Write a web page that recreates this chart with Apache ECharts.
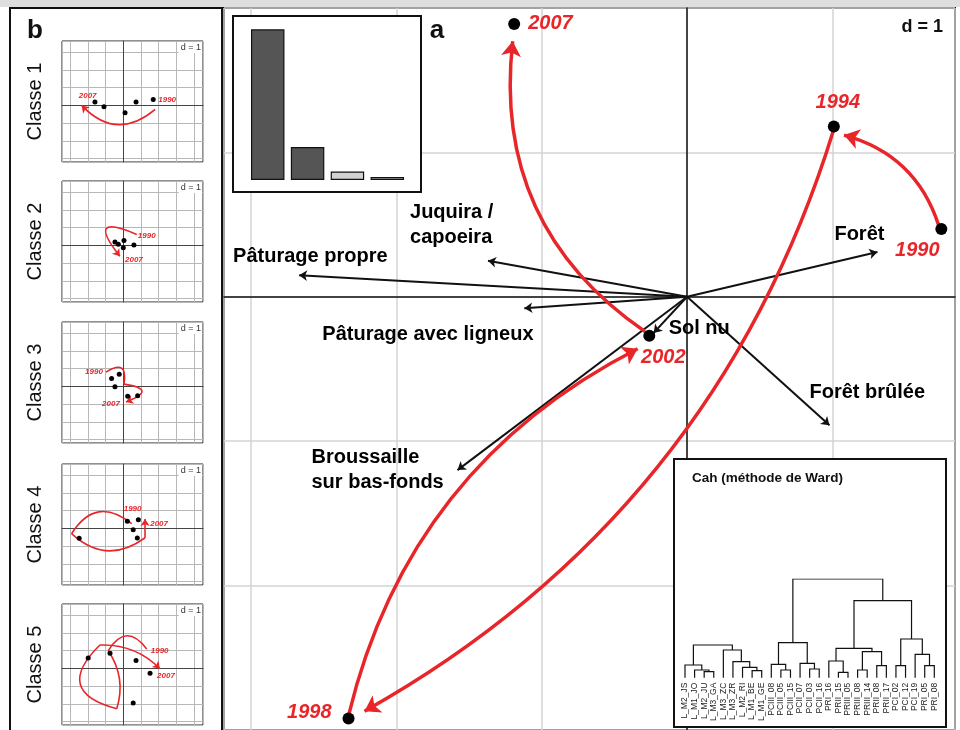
<!DOCTYPE html>
<html>
<head>
<meta charset="utf-8">
<script src="https://cdn.jsdelivr.net/npm/echarts@6/dist/echarts.min.js"></script>
<style>
  html, body { margin: 0; padding: 0; background: #fff; }
  #chart { width: 960px; height: 730px; }
</style>
</head>
<body>
<div id="chart"></div>
<script>
// ---- data ----
// a : ACP, trajectory of the years
var years = ['1990', '1994', '1998', '2002', '2007'];
var yearX = [1.75, 1.01, -2.33, -0.26, -1.19];
var yearY = [0.47, 1.18, -2.92, -0.27, 1.89];

// red arrows between the years (start / end)
var trajX0 = [1.73, 1.01, -2.33, -0.29];
var trajY0 = [0.50, 1.16, -2.90, -0.24];
var trajX1 = [1.08, -2.22, -0.34, -1.20];
var trajY1 = [1.12, -2.87, -0.36, 1.77];

// variables
var varNames = ['Forêt', 'Forêt brûlée', 'Sol nu', 'Pâturage propre', 'Juquira /\ncapoeira', 'Pâturage avec ligneux', 'Broussaille\nsur bas-fonds'];
var varX = [1.31, 0.98, -0.23, -2.67, -1.37, -1.12, -1.58];
var varY = [0.31, -0.89, -0.25, 0.15, 0.25, -0.08, -1.20];

// eigenvalues
var eigenNames = ['1', '2', '3', '4'];
var eigenValues = [1.51, 0.33, 0.085, 0.03];

// b : classes
var classNames = ['Classe 1', 'Classe 2', 'Classe 3', 'Classe 4', 'Classe 5'];
var classPtX = [
    [-1.60, -1.09, 0.10, 0.72, 1.69],
    [-0.47, -0.28, 0.04, 0.00, 0.60],
    [-0.66, -0.23, -0.47, 0.25, 0.81],
    [-2.49, 0.23, 0.85, 0.56, 0.79],
    [-1.98, -0.75, 0.72, 1.51, 0.56]
];
var classPtY = [
    [0.19, -0.07, -0.41, 0.19, 0.34],
    [0.19, 0.06, 0.28, -0.13, 0.02],
    [0.45, 0.69, -0.02, -0.56, -0.53],
    [-0.56, 0.40, 0.49, -0.07, -0.54],
    [0.59, 0.85, 0.44, -0.28, -1.95]
];
// sketched path 1990 -> 2007 in each class
var classPathX = [
    [1.80, -2.35],
    [0.76, -0.19],
    [-0.98, 0.04, 0.15],
    [0.47, -2.92, 1.23, 1.23],
    [1.32, -0.85, -0.37, -1.32, 2.07]
];
var classPathY = [
    [-0.23, 0.00],
    [0.62, -0.62],
    [0.81, 0.13, -0.88],
    [0.27, -0.30, -0.53, 0.53],
    [1.10, 1.00, -2.28, 1.32, -0.02]
];

// Cah (Ward) dendrogram
var leafNames = ['L_M2_JS', 'L_M1_JO', 'L_M2_JU', 'L_M3_GA', 'L_M3_ZC', 'L_M3_ZR', 'L_M2_RI', 'L_M1_BE', 'L_M1_GE',
    'PCIII_08', 'PCIII_05', 'PCIII_15', 'PCII_07', 'PCII_03', 'PCII_16',
    'PRI_16', 'PRII_15', 'PRIII_05', 'PRIII_08', 'PRIII_14', 'PRII_08', 'PRII_17',
    'PCI_02', 'PCI_12', 'PCI_19', 'PRI_05', 'PRI_08'];
// merge table like R hclust: negative = leaf, positive = earlier merge
var mergeA = [-17, -3, -8, -2, -11, -19, -14, -7, -21, -23, -26, -1, -10, -13, -6, -16, -25, 6, -5, 16, 12, 13, 10, 20, 22];
var mergeB = [-18, -4, -9, 2, -12, -20, -15, 3, -22, -24, -27, 4, 5, 7, 8, 1, 11, 9, 15, 18, 19, 14, 17, 23, 24];
var mergeH = [5.4, 6, 7, 7.7, 7.7, 7.7, 8.7, 10.4, 12, 12, 12, 12.7, 13.4, 14.4, 16, 16.7, 23.4, 26, 27.7, 29.4, 32.7, 35, 38.7, 77, 98.7];

// ---- styles ----
var RED = '#e8262a';
var FONT = "'Liberation Sans', Arial, sans-serif";
var trajBend = [-0.27, 0.2, 0.23, 0.3];
var classBend = [[0.47], [-2.0], [1.1, 1.9], [-0.56, -0.41, 0], [-0.73, 0.24, 0.88, 0.22]];
var varLabelPos = [[-43, -18], [-20, -33], [15, -4], [-66, -19], [-78, -36], [-202, 26], [-146, 0]];
var yearLabelPos = [[-24, 22, 'center'], [4, -24, 'center'], [-17, -6, 'right'], [14, 22, 'center'], [14, 0, 'left']];
var classLabelPos = [[[12, -10], [6, -10]], [[10, 1], [14, 3]], [[-12, 0], [-15, 2]], [[1, -15], [14, 5]], [[13, 2], [6, 7]]];
var classTops = [41, 181, 322, 464, 604];

var myChart = echarts.init(document.getElementById('chart'));

var grids = [{left: 224, top: 8, width: 731, height: 730, show: true, borderColor: '#111', borderWidth: 2, backgroundColor: '#fff'}];
var xAxes = [{
    gridIndex: 0, type: 'value', min: -3.187, max: 1.844, splitNumber: 5,
    axisLine: {onZero: true, lineStyle: {color: '#111', width: 1.5}},
    axisTick: {show: false}, axisLabel: {show: false},
    splitLine: {lineStyle: {color: '#d3d3d3', width: 1.5}}
}];
var yAxes = [{
    gridIndex: 0, type: 'value', min: -3, max: 2, interval: 1,
    axisLine: {onZero: true, lineStyle: {color: '#111', width: 1.5}},
    axisTick: {show: false}, axisLabel: {show: false},
    splitLine: {lineStyle: {color: '#d3d3d3', width: 1.5}}
}];
var series = [];
var graphics = [
    {type: 'rect', shape: {x: 0, y: 0, width: 960, height: 7}, style: {fill: '#dedede'}, z: 1},
    {type: 'rect', shape: {x: 10, y: 8, width: 212, height: 740}, style: {fill: 'none', stroke: '#111', lineWidth: 2}, z: 3},
    {type: 'text', x: 35, y: 31, style: {text: 'b', font: 'bold 26px ' + FONT, fill: '#111', align: 'center', verticalAlign: 'middle'}, z: 3},
    {type: 'text', x: 437, y: 31, style: {text: 'a', font: 'bold 26px ' + FONT, fill: '#111', align: 'center', verticalAlign: 'middle'}, z: 3},
    {type: 'text', x: 943, y: 27, style: {text: 'd = 1', font: 'bold 18px ' + FONT, fill: '#111', align: 'right', verticalAlign: 'middle'}, z: 3},
    // eigenvalue inset box
    {type: 'rect', shape: {x: 233, y: 16, width: 188, height: 176}, style: {fill: '#fff', stroke: '#111', lineWidth: 2}, z: 6},
    // dendrogram inset box
    {type: 'rect', shape: {x: 674, y: 459, width: 272, height: 268}, style: {fill: '#fff', stroke: '#111', lineWidth: 2}, z: 6},
    {type: 'text', x: 692, y: 478, style: {text: 'Cah (méthode de Ward)', font: 'bold 13.5px ' + FONT, fill: '#111', align: 'left', verticalAlign: 'middle'}, z: 7}
];

// variable arrows
series.push({
    type: 'lines', coordinateSystem: 'cartesian2d', xAxisIndex: 0, yAxisIndex: 0, silent: true, z: 3,
    symbol: ['none', 'arrow'], symbolSize: 8,
    lineStyle: {color: '#111', width: 2, opacity: 1},
    data: varX.map(function (x, i) { return {coords: [[0, 0], [x, varY[i]]]}; })
});
series.push({
    type: 'scatter', xAxisIndex: 0, yAxisIndex: 0, silent: true, z: 6, symbolSize: 1,
    itemStyle: {color: 'rgba(0,0,0,0)', opacity: 1},
    data: varX.map(function (x, i) {
        return {
            value: [x, varY[i]],
            label: {
                show: true, formatter: varNames[i], position: 'inside',
                offset: varLabelPos[i], align: 'left', verticalAlign: 'middle', opacity: 1,
                fontFamily: FONT, fontWeight: 'bold', fontSize: 20, lineHeight: 25, color: '#000'
            }
        };
    })
});
// red trajectory
series.push({
    type: 'lines', coordinateSystem: 'cartesian2d', xAxisIndex: 0, yAxisIndex: 0, silent: true, z: 4,
    symbol: ['none', 'arrow'], symbolSize: 15,
    lineStyle: {color: RED, width: 3.5, opacity: 1},
    data: trajX0.map(function (x, i) {
        return {coords: [[x, trajY0[i]], [trajX1[i], trajY1[i]]], lineStyle: {curveness: trajBend[i]}};
    })
});
series.push({
    type: 'scatter', xAxisIndex: 0, yAxisIndex: 0, silent: true, z: 5, symbolSize: 12,
    itemStyle: {color: '#000', opacity: 1},
    data: yearX.map(function (x, i) {
        return {
            value: [x, yearY[i]],
            label: {
                show: true, formatter: years[i], position: 'inside', opacity: 1,
                offset: [yearLabelPos[i][0], yearLabelPos[i][1]], align: yearLabelPos[i][2], verticalAlign: 'middle',
                fontFamily: FONT, fontWeight: 'bold', fontStyle: 'italic', fontSize: 20, color: RED
            }
        };
    })
});

// small class panels
classNames.forEach(function (name, c) {
    var g = c + 1;
    grids.push({left: 62, top: classTops[c], width: 141, height: 121, show: true, borderColor: '#222', borderWidth: 1, backgroundColor: '#fff'});
    xAxes.push({
        gridIndex: g, type: 'value', min: -3.46, max: 4.5, splitNumber: 8,
        axisLine: {onZero: true, lineStyle: {color: '#444', width: 1}},
        axisTick: {show: false}, axisLabel: {show: false},
        splitLine: {lineStyle: {color: '#b8b8b8', width: 1}}
    });
    yAxes.push({
        gridIndex: g, type: 'value', min: -3.2, max: 3.64, splitNumber: 7,
        axisLine: {onZero: true, lineStyle: {color: '#444', width: 1}},
        axisTick: {show: false}, axisLabel: {show: false},
        splitLine: {lineStyle: {color: '#b8b8b8', width: 1}}
    });
    graphics.push({type: 'text', x: 35, y: classTops[c] + 60.5, rotation: Math.PI / 2,
        style: {text: name, font: '20px ' + FONT, fill: '#111', align: 'center', verticalAlign: 'middle'}, z: 3});
    graphics.push({type: 'text', x: 202, y: classTops[c] + 1,
        style: {text: 'd = 1', font: '9px ' + FONT, fill: '#333', align: 'right', verticalAlign: 'top',
            backgroundColor: '#fff', padding: [1, 1, 1, 2]}, z: 3});

    var px = classPathX[c], py = classPathY[c];
    var segs = [];
    for (var j = 0; j < px.length - 1; j++) {
        segs.push({coords: [[px[j], py[j]], [px[j + 1], py[j + 1]]], lineStyle: {curveness: classBend[c][j]}});
    }
    var last = segs.pop();
    if (segs.length) {
        series.push({
            type: 'lines', coordinateSystem: 'cartesian2d', xAxisIndex: g, yAxisIndex: g, silent: true, z: 4,
            symbol: 'none', lineStyle: {color: RED, width: 1.6, opacity: 1}, data: segs
        });
    }
    series.push({
        type: 'lines', coordinateSystem: 'cartesian2d', xAxisIndex: g, yAxisIndex: g, silent: true, z: 4,
        symbol: ['none', 'arrow'], symbolSize: 7,
        lineStyle: {color: RED, width: 1.6, opacity: 1}, data: [last]
    });
    series.push({
        type: 'scatter', xAxisIndex: g, yAxisIndex: g, silent: true, z: 5, symbolSize: 5,
        itemStyle: {color: '#000', opacity: 1},
        data: classPtX[c].map(function (x, i) { return [x, classPtY[c][i]]; })
    });
    var ends = [[px[0], py[0], '1990'], [px[px.length - 1], py[py.length - 1], '2007']];
    series.push({
        type: 'scatter', xAxisIndex: g, yAxisIndex: g, silent: true, z: 6, symbolSize: 1,
        itemStyle: {color: 'rgba(0,0,0,0)', opacity: 1},
        data: ends.map(function (e, k) {
            return {
                value: [e[0], e[1]],
                label: {
                    show: true, formatter: e[2], position: 'inside', offset: classLabelPos[c][k],
                    align: 'center', verticalAlign: 'middle', opacity: 1,
                    fontFamily: FONT, fontWeight: 'bold', fontStyle: 'italic', fontSize: 8, color: RED
                }
            };
        })
    });
});

// eigenvalue bars
grids.push({left: 247.8, top: 29.3, width: 159.4, height: 150.7});
xAxes.push({gridIndex: 6, type: 'category', data: eigenNames, show: false, z: 10});
yAxes.push({gridIndex: 6, type: 'value', min: 0, max: eigenValues[0], show: false, z: 10});
series.push({
    type: 'bar', xAxisIndex: 6, yAxisIndex: 6, silent: true, z: 10, barWidth: '84%',
    data: eigenValues.map(function (v, i) {
        return {value: v, itemStyle: {color: i < 2 ? '#555555' : '#d2d2d2', borderColor: '#111', borderWidth: 1.2}};
    })
});

// dendrogram
var nodeX = [], nodeH = [], dendroSegs = [];
function childPos(id) { return id < 0 ? [-id - 1, 0] : [nodeX[id - 1], nodeH[id - 1]]; }
mergeA.forEach(function (a, i) {
    var pa = childPos(a), pb = childPos(mergeB[i]), h = mergeH[i];
    nodeX[i] = (pa[0] + pb[0]) / 2;
    nodeH[i] = h;
    dendroSegs.push({coords: [[pa[0], pa[1]], [pa[0], h], [pb[0], h], [pb[0], pb[1]]]});
});
grids.push({left: 685, top: 579, width: 249.3, height: 98.7});
xAxes.push({
    gridIndex: 7, type: 'value', min: 0, max: leafNames.length - 1, interval: 1, z: 10,
    axisLine: {show: false}, axisTick: {show: false}, splitLine: {show: false},
    axisLabel: {
        rotate: 90, margin: 5, fontSize: 8.5, fontFamily: FONT, color: '#222',
        formatter: function (v) { return leafNames[v] || ''; }
    }
});
yAxes.push({gridIndex: 7, type: 'value', min: 0, max: mergeH[mergeH.length - 1], show: false, z: 10});
series.push({
    type: 'lines', coordinateSystem: 'cartesian2d', xAxisIndex: 7, yAxisIndex: 7, silent: true, z: 10,
    polyline: true, symbol: 'none',
    lineStyle: {color: '#111', width: 1.2, opacity: 1},
    data: dendroSegs
});

var option = {
    backgroundColor: '#fff',
    animation: false,
    grid: grids,
    xAxis: xAxes,
    yAxis: yAxes,
    graphic: {elements: graphics},
    series: series
};
myChart.setOption(option);
</script>
</body>
</html>
